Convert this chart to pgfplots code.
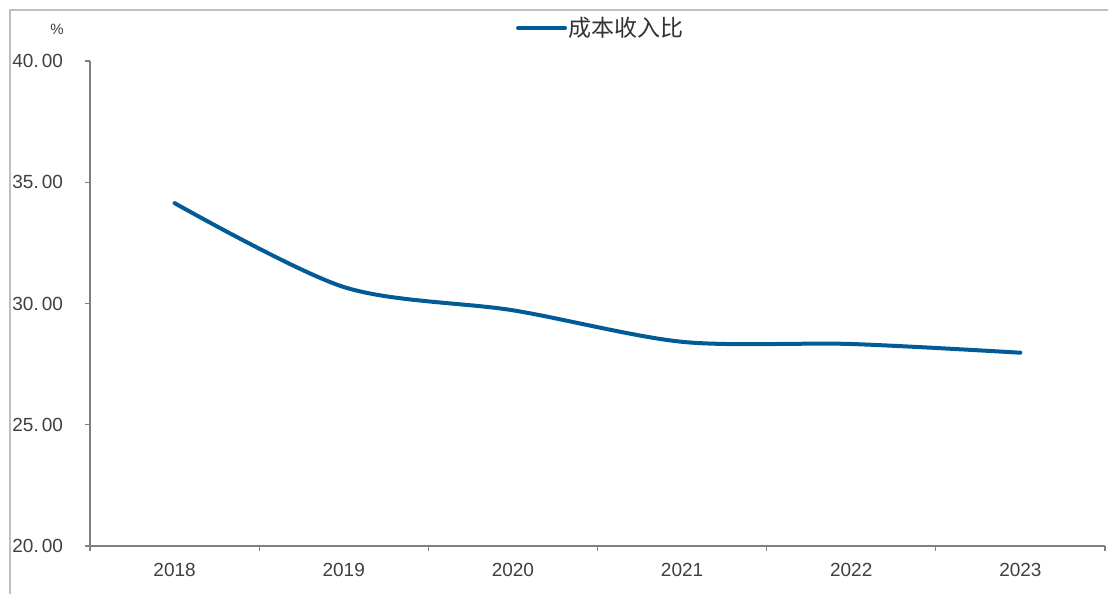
\documentclass[border=0pt]{standalone}
\usepackage{pgfplots}
\pgfplotsset{compat=1.18}
\usepackage{fontspec}
\setmainfont{Liberation Sans}
\newfontfamily\cjk{Noto Sans CJK SC}
\definecolor{lineblue}{RGB}{0,91,150}
\definecolor{axisgray}{RGB}{128,128,128}
\definecolor{textgray}{RGB}{64,64,64}
\begin{document}
\begin{tikzpicture}
\clip (0,0) rectangle (554pt,297pt);
\fill[white] (0,0) rectangle (554pt,297pt);
\draw[color=black!25, line width=0.6pt] (5pt,-10pt) -- (5pt,292pt) -- (570pt,292pt);
\node[text=textgray, font=\fontsize{7.5}{8}\selectfont] at (28.5pt,282.5pt) {\%};
\begin{axis}[
    at={(45pt,24pt)}, anchor=south west,
    scale only axis,
    width=507.5pt, height=242.5pt,
    xmin=-0.5, xmax=5.5,
    ymin=20, ymax=40,
    axis x line*=bottom,
    axis y line*=left,
    axis line style={-, draw=axisgray, line width=0.6pt},
    tick style={draw=axisgray, line width=0.6pt},
    tick align=outside,
    major tick length=2.5pt,
    xtick={-0.5,0.5,1.5,2.5,3.5,4.5,5.5},
    xticklabels={},
    extra x ticks={0,1,2,3,4,5},
    extra x tick labels={2018,2019,2020,2021,2022,2023},
    extra x tick style={major tick length=0pt},
    xticklabel style={text=textgray, font=\fontsize{9.5}{12}\selectfont, yshift=-5pt},
    ytick={20,25,30,35,40},
    yticklabels={20.\hspace{1.5pt}00,25.\hspace{1.5pt}00,30.\hspace{1.5pt}00,35.\hspace{1.5pt}00,40.\hspace{1.5pt}00},
    yticklabel style={text=textgray, font=\fontsize{9.5}{12}\selectfont, xshift=-7.5pt},
    legend style={draw=none, fill=none, at={(0.503,1.068)}, anchor=center,
        font=\cjk\fontsize{11.5}{13}\selectfont, text=black!80,
        inner sep=0pt, nodes={inner sep=0.75pt}},
    legend image code/.code={\draw[#1, line width=2pt] (0pt,0pt) -- (23.5pt,0pt);},
    clip=false
]
\addplot[lineblue, line width=2pt, smooth, tension=0.5, line cap=round] coordinates {
    (0, 34.14)
    (1, 30.68)
    (2, 29.72)
    (3, 28.42)
    (4, 28.33)
    (5, 27.97)
};
\addlegendentry{成本收入比}
\end{axis}
\end{tikzpicture}
\end{document}
